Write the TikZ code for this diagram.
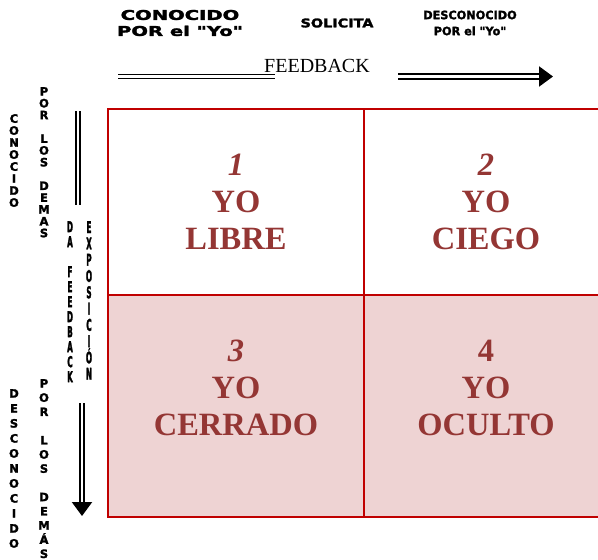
\documentclass[tikz,border=0pt]{standalone}
\usepackage{fontspec}
\setmainfont{Liberation Serif}
\newfontfamily\headfont[FakeBold=2]{DejaVu Sans}
\newfontfamily\narrowfont[FakeStretch=0.6,FakeBold=2]{DejaVu Sans}
\usetikzlibrary{arrows.meta}
\definecolor{gridred}{HTML}{C00000}
\definecolor{yocolor}{HTML}{943634}
\definecolor{lowfill}{HTML}{EED3D3}
\newcommand{\wide}[2]{\scalebox{#1}[1]{#2}}
\newcommand{\tlscale}{1.25}
\newcommand{\tl}[1]{\scalebox{1}[\tlscale]{#1}}
\tikzstyle{cell} = [rectangle, draw=gridred, line width=2pt, minimum width=256pt, minimum height=186pt, inner sep=0pt]
\tikzstyle{lowcell} = [cell, fill=lowfill, minimum height=222pt]
\tikzstyle{yotext} = [text=yocolor, font=\fontsize{32.5}{37}\selectfont\bfseries, align=center, inner sep=0pt]
\tikzstyle{head} = [font=\headfont\bfseries\fontsize{13.5}{16}\selectfont, align=center, inner sep=0pt]
\tikzstyle{vert} = [font=\headfont\bfseries\fontsize{11.5}{12}\selectfont, align=center, inner sep=0pt, anchor=north]
\tikzstyle{tall} = [font=\narrowfont\bfseries\fontsize{12}{15}\selectfont, align=center, inner sep=0pt, anchor=north]
\tikzstyle{dline} = [double, double distance=2.5pt, line width=2.2pt]
\tikzstyle{darrow} = [dline, -{Triangle[length=14pt,width=20pt]}]

\begin{document}
\begin{tikzpicture}[x=1pt,y=-1pt]
\useasboundingbox (0,0) rectangle (598,560);

% the four windows
\node (cell1) [cell] at (236,202) {};
\node (cell2) [cell, minimum width=240pt] at (484,202) {};
\node (cell3) [lowcell] at (236,406) {};
\node (cell4) [lowcell, minimum width=240pt] at (484,406) {};
\node (txt1) [yotext] at (cell1.center) {\textit{1}\\YO\\LIBRE};
\node (txt2) [yotext] at ([xshift=2pt]cell2.center) {\textit{2}\\YO\\CIEGO};
\node (txt3) [yotext] at ([yshift=18pt]cell3.center) {\textit{3}\\YO\\CERRADO};
\node (txt4) [yotext] at ([xshift=2pt,yshift=18pt]cell4.center) {4\\YO\\OCULTO};

% top headings
\node (knownme) [head] at (180,23) {\wide{1.45}{CONOCIDO}\\\wide{1.45}{POR el "Yo"}};
\node (asks) [head, font=\headfont\bfseries\fontsize{12}{14}\selectfont] at (337,23) {\wide{1.2}{SOLICITA}};
\node (unknownme) [head, font=\headfont\bfseries\fontsize{11.5}{16}\selectfont] at (470,23) {\wide{0.98}{DESCONOCIDO}\\\wide{0.98}{POR el "Yo"}};
\node (fb) [font=\fontsize{20}{24}\selectfont, inner sep=0pt] at (317,66) {FEEDBACK};

% left side columns
\node (knownothers) [vert] at (14,114) {C\\O\\N\\O\\C\\I\\D\\O};
\node (byothers1) [vert, font=\headfont\bfseries\fontsize{11.5}{11.8}\selectfont] at (44,87) {P\\O\\R\\~\\L\\O\\S\\~\\D\\E\\M\\A\\S};
\node (givesfb) [tall] at (70,221) {\tl{D}\\\tl{A}\\~\\\tl{F}\\\tl{E}\\\tl{E}\\\tl{D}\\\tl{B}\\\tl{A}\\\tl{C}\\\tl{K}};
\node (exposure) [tall, font=\narrowfont\bfseries\fontsize{12}{16.3}\selectfont\renewcommand{\tlscale}{1.35}] at (89,221) {\tl{E}\\\tl{X}\\\tl{P}\\\tl{O}\\\tl{S}\\\tl{I}\\\tl{C}\\\tl{I}\\\tl{Ó}\\\tl{N}};
\node (unknownothers) [vert, font=\headfont\bfseries\fontsize{11.5}{15}\selectfont] at (14,389) {D\\E\\S\\C\\O\\N\\O\\C\\I\\D\\O};
\node (byothers2) [vert, font=\headfont\bfseries\fontsize{11.5}{14.2}\selectfont] at (44,379) {P\\O\\R\\~\\L\\O\\S\\~\\D\\E\\M\\Á\\S};

% double lines
\coordinate (fbA) at (118,76.5);
\coordinate (fbB) at (275,76.5);
\coordinate (fbC) at (398,76.5);
\coordinate (fbD) at (553,76.5);
\coordinate (exA) at (78,111);
\coordinate (exB) at (78,205);
\coordinate (exC) at (82,403);
\coordinate (exD) at (82,516);
\draw [dline, line width=1.5pt] (fbA) -- (fbB);
\draw [darrow] (fbC) -- (fbD);
\draw [dline, line width=1.5pt] (exA) -- (exB);
\draw [darrow] (exC) -- (exD);

\end{tikzpicture}
\end{document}
